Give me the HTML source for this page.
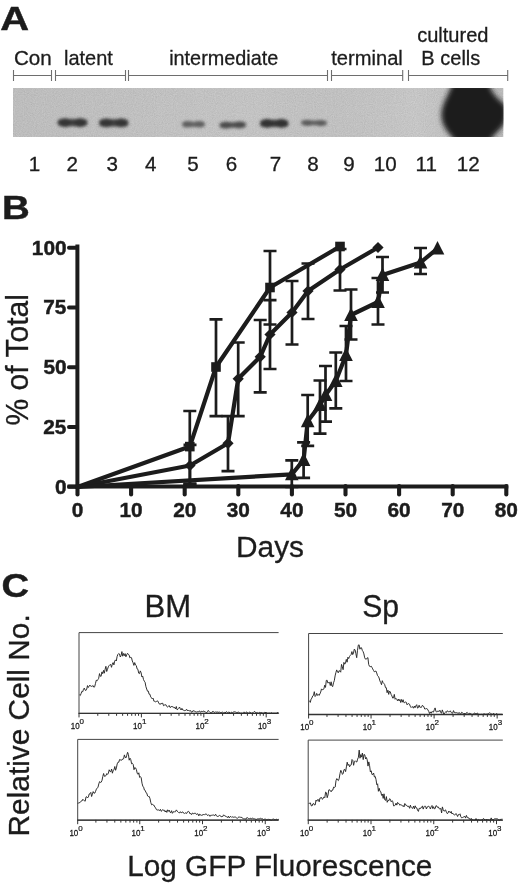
<!DOCTYPE html>
<html><head><meta charset="utf-8"><title>Figure</title>
<style>
html,body{margin:0;padding:0;background:#fff;}
body{width:520px;height:886px;overflow:hidden;}
svg{display:block;filter:grayscale(1) blur(0.35px);}
text{font-family:"Liberation Sans",sans-serif;fill:#1c1c1c;stroke:#1c1c1c;stroke-width:0.3px;}
.b{font-weight:bold;stroke:#1c1c1c;stroke-width:0.45px;}
.ser{font-family:"Liberation Sans",sans-serif;}
</style></head><body>
<svg width="520" height="886" viewBox="0 0 520 886">
<defs>
<filter id="bl2" x="-30%" y="-100%" width="160%" height="300%"><feGaussianBlur stdDeviation="1.7 1.4"/></filter>
<filter id="bl3" x="-30%" y="-30%" width="160%" height="160%"><feGaussianBlur stdDeviation="2.7"/></filter>
<filter id="grain" x="0" y="0" width="100%" height="100%"><feTurbulence type="fractalNoise" baseFrequency="0.9" numOctaves="2" seed="3" result="n"/><feColorMatrix type="matrix" values="0 0 0 0 0  0 0 0 0 0  0 0 0 0 0  0.35 0.35 0.35 0 -0.38"/></filter>
<linearGradient id="blotshade" x1="0" x2="1" y1="0" y2="0"><stop offset="0" stop-color="#000" stop-opacity="0.03"/><stop offset="0.5" stop-color="#000" stop-opacity="0"/><stop offset="0.82" stop-color="#fff" stop-opacity="0.06"/><stop offset="1" stop-color="#000" stop-opacity="0.05"/></linearGradient>
<clipPath id="blotclip"><rect x="13" y="88" width="490.5" height="49"/></clipPath>
</defs>
<rect width="520" height="886" fill="#fff"/>
<text transform="translate(0.25 29.50) scale(1.2199 1)" font-size="32.73" class="b">A</text>
<text transform="translate(13.97 65.40) scale(1.0006 1)" font-size="20.60">Con</text>
<text transform="translate(64.05 65.40) scale(0.9688 1)" font-size="20.60">latent</text>
<text transform="translate(169.16 65.20) scale(0.9632 1)" font-size="20.60">intermediate</text>
<text transform="translate(331.20 65.20) scale(0.9779 1)" font-size="20.60">terminal</text>
<text transform="translate(417.15 42.30) scale(0.9744 1)" font-size="20.60">cultured</text>
<text transform="translate(421.35 65.40) scale(0.9717 1)" font-size="20.60">B cells</text>
<path d="M13.5 70V81M51.5 70V81M13.5 75.5H51.5" stroke="#6e6e6e" stroke-width="1.1" fill="none"/>
<path d="M55.5 70V81M125.5 70V81M55.5 75.5H125.5" stroke="#6e6e6e" stroke-width="1.1" fill="none"/>
<path d="M128.5 70V81M327.5 70V81M128.5 75.5H327.5" stroke="#6e6e6e" stroke-width="1.1" fill="none"/>
<path d="M331.5 70V81M402.7 70V81M331.5 75.5H402.7" stroke="#6e6e6e" stroke-width="1.1" fill="none"/>
<path d="M408.5 70V81M507.7 70V81M408.5 75.5H507.7" stroke="#6e6e6e" stroke-width="1.1" fill="none"/>
<g clip-path="url(#blotclip)">
<rect x="13" y="88" width="490.5" height="49" fill="#c9c9c9"/>
<rect x="13" y="88" width="490.5" height="49" fill="url(#blotshade)"/>
<rect x="13" y="88" width="490.5" height="49" filter="url(#grain)" opacity="0.22"/>
<g transform="rotate(0 72.5 122.6)" filter="url(#bl2)" opacity="1.0">
<rect x="57.5" y="118.89999999999999" width="30.0" height="7.4" rx="3.7" fill="#363636" opacity="0.93"/>
<ellipse cx="65.14" cy="122.6" rx="6.08" ry="4.4" fill="#363636"/>
<ellipse cx="79.86" cy="122.6" rx="6.08" ry="4.4" fill="#363636"/>
</g>
<g transform="rotate(0 113.75 122.9)" filter="url(#bl2)" opacity="1.0">
<rect x="99" y="119.2" width="29.5" height="7.4" rx="3.7" fill="#363636" opacity="0.93"/>
<ellipse cx="106.505" cy="122.9" rx="5.985" ry="4.4" fill="#363636"/>
<ellipse cx="120.995" cy="122.9" rx="5.985" ry="4.4" fill="#363636"/>
</g>
<g transform="rotate(0 193.5 124.3)" filter="url(#bl2)" opacity="0.9">
<rect x="182" y="121.7" width="23" height="5.199999999999999" rx="2.5999999999999996" fill="#555" opacity="0.93"/>
<ellipse cx="187.75" cy="124.3" rx="4.75" ry="3.3" fill="#555"/>
<ellipse cx="199.25" cy="124.3" rx="4.75" ry="3.3" fill="#555"/>
</g>
<g transform="rotate(-1.2 232.75 125.0)" filter="url(#bl2)" opacity="0.95">
<rect x="219.5" y="122.2" width="26.5" height="5.6" rx="2.8" fill="#444" opacity="0.93"/>
<ellipse cx="226.195" cy="125.0" rx="5.415" ry="3.5" fill="#444"/>
<ellipse cx="239.305" cy="125.0" rx="5.415" ry="3.5" fill="#444"/>
</g>
<g transform="rotate(0 274.25 123.4)" filter="url(#bl2)" opacity="1.0">
<rect x="260" y="119.75000000000001" width="28.5" height="7.299999999999999" rx="3.6499999999999995" fill="#303030" opacity="0.93"/>
<ellipse cx="267.235" cy="123.4" rx="5.795" ry="4.35" fill="#303030"/>
<ellipse cx="281.265" cy="123.4" rx="5.795" ry="4.35" fill="#303030"/>
</g>
<g transform="rotate(0.8 314.0 122.9)" filter="url(#bl2)" opacity="0.9">
<rect x="301" y="120.60000000000001" width="26" height="4.6" rx="2.3" fill="#505050" opacity="0.93"/>
<ellipse cx="307.56" cy="122.9" rx="5.32" ry="3.0" fill="#505050"/>
<ellipse cx="320.44" cy="122.9" rx="5.32" ry="3.0" fill="#505050"/>
</g>
<path d="M452 84 C449 95 441 104 441.5 116 C442 127 449 133 455 141 L490 141 C494 133 506 127 506 117 L506 106 C500 100 492 95 489 84 Z" fill="#1d1d1d" filter="url(#bl3)"/>
</g>
<text transform="translate(34.60 171.30) scale(1.0000 1)" font-size="20.60" text-anchor="middle">1</text>
<text transform="translate(72.20 171.30) scale(1.0000 1)" font-size="20.60" text-anchor="middle">2</text>
<text transform="translate(112.30 171.30) scale(1.0000 1)" font-size="20.60" text-anchor="middle">3</text>
<text transform="translate(150.80 171.30) scale(1.0000 1)" font-size="20.60" text-anchor="middle">4</text>
<text transform="translate(193.00 171.30) scale(1.0000 1)" font-size="20.60" text-anchor="middle">5</text>
<text transform="translate(231.50 171.30) scale(1.0000 1)" font-size="20.60" text-anchor="middle">6</text>
<text transform="translate(275.40 171.30) scale(1.0000 1)" font-size="20.60" text-anchor="middle">7</text>
<text transform="translate(312.90 171.30) scale(1.0000 1)" font-size="20.60" text-anchor="middle">8</text>
<text transform="translate(349.00 171.30) scale(1.0000 1)" font-size="20.60" text-anchor="middle">9</text>
<text transform="translate(385.20 171.30) scale(1.0000 1)" font-size="20.60" text-anchor="middle">10</text>
<text transform="translate(426.30 171.30) scale(1.0000 1)" font-size="20.60" text-anchor="middle">11</text>
<text transform="translate(468.20 171.30) scale(1.0000 1)" font-size="20.60" text-anchor="middle">12</text>
<text transform="translate(1.90 218.80) scale(1.1719 1)" font-size="32.87" class="b">B</text>
<path d="M77.4 244.6V488.6" stroke="#1c1c1c" stroke-width="4" fill="none"/>
<path d="M67.5 486.6H508.3" stroke="#1c1c1c" stroke-width="4" fill="none"/>
<path d="M69 486.80H77" stroke="#1c1c1c" stroke-width="4" stroke-linecap="round"/>
<text transform="translate(66.56 493.50) scale(1.0000 1)" font-size="20.80" text-anchor="end" class="b">0</text>
<path d="M69 427.05H77" stroke="#1c1c1c" stroke-width="4" stroke-linecap="round"/>
<text transform="translate(66.32 433.75) scale(1.0000 1)" font-size="20.80" text-anchor="end" class="b">25</text>
<path d="M69 367.30H77" stroke="#1c1c1c" stroke-width="4" stroke-linecap="round"/>
<text transform="translate(66.58 374.00) scale(1.0000 1)" font-size="20.80" text-anchor="end" class="b">50</text>
<path d="M69 307.55H77" stroke="#1c1c1c" stroke-width="4" stroke-linecap="round"/>
<text transform="translate(66.32 314.25) scale(1.0000 1)" font-size="20.80" text-anchor="end" class="b">75</text>
<path d="M69 247.80H77" stroke="#1c1c1c" stroke-width="4" stroke-linecap="round"/>
<text transform="translate(66.55 254.50) scale(1.0000 1)" font-size="20.80" text-anchor="end" class="b">100</text>
<path d="M77.50 486V494.5" stroke="#1c1c1c" stroke-width="4.1" stroke-linecap="round"/>
<text transform="translate(77.50 517.30) scale(1.0000 1)" font-size="20.80" text-anchor="middle" class="b">0</text>
<path d="M131.10 486V494.5" stroke="#1c1c1c" stroke-width="4.1" stroke-linecap="round"/>
<text transform="translate(131.10 517.30) scale(1.0000 1)" font-size="20.80" text-anchor="middle" class="b">10</text>
<path d="M184.70 486V494.5" stroke="#1c1c1c" stroke-width="4.1" stroke-linecap="round"/>
<text transform="translate(184.70 517.30) scale(1.0000 1)" font-size="20.80" text-anchor="middle" class="b">20</text>
<path d="M238.30 486V494.5" stroke="#1c1c1c" stroke-width="4.1" stroke-linecap="round"/>
<text transform="translate(238.30 517.30) scale(1.0000 1)" font-size="20.80" text-anchor="middle" class="b">30</text>
<path d="M291.90 486V494.5" stroke="#1c1c1c" stroke-width="4.1" stroke-linecap="round"/>
<text transform="translate(291.90 517.30) scale(1.0000 1)" font-size="20.80" text-anchor="middle" class="b">40</text>
<path d="M345.50 486V494.5" stroke="#1c1c1c" stroke-width="4.1" stroke-linecap="round"/>
<text transform="translate(345.50 517.30) scale(1.0000 1)" font-size="20.80" text-anchor="middle" class="b">50</text>
<path d="M399.10 486V494.5" stroke="#1c1c1c" stroke-width="4.1" stroke-linecap="round"/>
<text transform="translate(399.10 517.30) scale(1.0000 1)" font-size="20.80" text-anchor="middle" class="b">60</text>
<path d="M452.70 486V494.5" stroke="#1c1c1c" stroke-width="4.1" stroke-linecap="round"/>
<text transform="translate(452.70 517.30) scale(1.0000 1)" font-size="20.80" text-anchor="middle" class="b">70</text>
<path d="M506.30 486V494.5" stroke="#1c1c1c" stroke-width="4.1" stroke-linecap="round"/>
<text transform="translate(506.30 517.30) scale(1.0000 1)" font-size="20.80" text-anchor="middle" class="b">80</text>
<text transform="translate(28.10 425.55) rotate(-90) scale(0.9654 1)" font-size="31.17">% of Total</text>
<text transform="translate(236.04 557.30) scale(0.9870 1)" font-size="30.25">Days</text>
<path d="M189.8 411V483.8M183.3 411H196.3M183.3 483.8H196.3" stroke="#1c1c1c" stroke-width="2.7" fill="none"/>
<path d="M216 319.3V416.2M209.5 319.3H222.5M209.5 416.2H222.5" stroke="#1c1c1c" stroke-width="2.7" fill="none"/>
<path d="M270 251V324.5M263.5 251H276.5M263.5 324.5H276.5" stroke="#1c1c1c" stroke-width="2.7" fill="none"/>
<path d="M190 444.8V483.8M183.5 444.8H196.5M183.5 483.8H196.5" stroke="#1c1c1c" stroke-width="2.7" fill="none"/>
<path d="M228 416.2V471.1M221.5 416.2H234.5M221.5 471.1H234.5" stroke="#1c1c1c" stroke-width="2.7" fill="none"/>
<path d="M238.2 342.5V416.2M231.7 342.5H244.7M231.7 416.2H244.7" stroke="#1c1c1c" stroke-width="2.7" fill="none"/>
<path d="M260.2 320V392.3M253.7 320H266.7M253.7 392.3H266.7" stroke="#1c1c1c" stroke-width="2.7" fill="none"/>
<path d="M270 300.2V369M263.5 300.2H276.5M263.5 369H276.5" stroke="#1c1c1c" stroke-width="2.7" fill="none"/>
<path d="M292 281V344.5M285.5 281H298.5M285.5 344.5H298.5" stroke="#1c1c1c" stroke-width="2.7" fill="none"/>
<path d="M308 263.5V319M301.5 263.5H314.5M301.5 319H314.5" stroke="#1c1c1c" stroke-width="2.7" fill="none"/>
<path d="M340 249V290.5M333.5 249H346.5M333.5 290.5H346.5" stroke="#1c1c1c" stroke-width="2.7" fill="none"/>
<path d="M291.8 460.4V487M285.3 460.4H298.3M285.3 487H298.3" stroke="#1c1c1c" stroke-width="2.7" fill="none"/>
<path d="M303.6 442.4V477.8M297.1 442.4H310.1M297.1 477.8H310.1" stroke="#1c1c1c" stroke-width="2.7" fill="none"/>
<path d="M307.7 395V445.9M301.2 395H314.2M301.2 445.9H314.2" stroke="#1c1c1c" stroke-width="2.7" fill="none"/>
<path d="M320 380.5V433.6M313.5 380.5H326.5M313.5 433.6H326.5" stroke="#1c1c1c" stroke-width="2.7" fill="none"/>
<path d="M325.5 366V421.6M319.0 366H332.0M319.0 421.6H332.0" stroke="#1c1c1c" stroke-width="2.7" fill="none"/>
<path d="M335.8 352.5V408.4M329.3 352.5H342.3M329.3 408.4H342.3" stroke="#1c1c1c" stroke-width="2.7" fill="none"/>
<path d="M346 326V381M339.5 326H352.5M339.5 381H352.5" stroke="#1c1c1c" stroke-width="2.7" fill="none"/>
<path d="M351 289.5V339.5M344.5 289.5H357.5M344.5 339.5H357.5" stroke="#1c1c1c" stroke-width="2.7" fill="none"/>
<path d="M378 278V324.5M371.5 278H384.5M371.5 324.5H384.5" stroke="#1c1c1c" stroke-width="2.7" fill="none"/>
<path d="M382.5 257V292.5M376.0 257H389.0M376.0 292.5H389.0" stroke="#1c1c1c" stroke-width="2.7" fill="none"/>
<path d="M420.5 248V274M414.0 248H427.0M414.0 274H427.0" stroke="#1c1c1c" stroke-width="2.7" fill="none"/>
<path d="M77.5 487 L189.8 446.6 L216 367 L270 287.5 L340 246.5" stroke="#1c1c1c" stroke-width="4.2" fill="none" stroke-linejoin="round" stroke-linecap="round"/>
<path d="M77.5 487 L190 465.5 L228 443.3 L238.2 378.8 L260.2 356.8 L270 334.5 L292 312.5 L308 291 L340 269.5 L378 247.5" stroke="#1c1c1c" stroke-width="4.2" fill="none" stroke-linejoin="round" stroke-linecap="round"/>
<path d="M77.5 487 L291.8 474.3 L303.6 460 L307.7 421.2 L320 405 L325.5 395 L335.8 381 L346 355 L351 315 L378 302 L382.5 275 L420.5 262.5 L437.5 248.5" stroke="#1c1c1c" stroke-width="4.2" fill="none" stroke-linejoin="round" stroke-linecap="round"/>
<rect x="185.0" y="441.8" width="9.6" height="9.6" fill="#1c1c1c"/>
<rect x="211.2" y="362.2" width="9.6" height="9.6" fill="#1c1c1c"/>
<rect x="265.2" y="282.7" width="9.6" height="9.6" fill="#1c1c1c"/>
<rect x="335.2" y="241.7" width="9.6" height="9.6" fill="#1c1c1c"/>
<path d="M190 459.9L195.6 465.5L190 471.1L184.4 465.5Z" fill="#1c1c1c"/>
<path d="M228 437.7L233.6 443.3L228 448.90000000000003L222.4 443.3Z" fill="#1c1c1c"/>
<path d="M238.2 373.2L243.79999999999998 378.8L238.2 384.40000000000003L232.6 378.8Z" fill="#1c1c1c"/>
<path d="M260.2 351.2L265.8 356.8L260.2 362.40000000000003L254.6 356.8Z" fill="#1c1c1c"/>
<path d="M270 328.9L275.6 334.5L270 340.1L264.4 334.5Z" fill="#1c1c1c"/>
<path d="M292 306.9L297.6 312.5L292 318.1L286.4 312.5Z" fill="#1c1c1c"/>
<path d="M308 285.4L313.6 291L308 296.6L302.4 291Z" fill="#1c1c1c"/>
<path d="M340 263.9L345.6 269.5L340 275.1L334.4 269.5Z" fill="#1c1c1c"/>
<path d="M378 241.9L383.6 247.5L378 253.1L372.4 247.5Z" fill="#1c1c1c"/>
<path d="M291.8 466.8L298.6 480.3L285.0 480.3Z" fill="#1c1c1c"/>
<path d="M303.6 452.5L310.40000000000003 466L296.8 466Z" fill="#1c1c1c"/>
<path d="M307.7 413.7L314.5 427.2L300.9 427.2Z" fill="#1c1c1c"/>
<path d="M320 397.5L326.8 411L313.2 411Z" fill="#1c1c1c"/>
<path d="M325.5 387.5L332.3 401L318.7 401Z" fill="#1c1c1c"/>
<path d="M335.8 373.5L342.6 387L329.0 387Z" fill="#1c1c1c"/>
<path d="M346 347.5L352.8 361L339.2 361Z" fill="#1c1c1c"/>
<path d="M351 307.5L357.8 321L344.2 321Z" fill="#1c1c1c"/>
<path d="M378 294.5L384.8 308L371.2 308Z" fill="#1c1c1c"/>
<path d="M382.5 267.5L389.3 281L375.7 281Z" fill="#1c1c1c"/>
<path d="M420.5 255.0L427.3 268.5L413.7 268.5Z" fill="#1c1c1c"/>
<path d="M437.5 241.0L444.3 254.5L430.7 254.5Z" fill="#1c1c1c"/>
<text transform="translate(1.47 597.00) scale(1.1749 1)" font-size="32.49" class="b">C</text>
<text transform="translate(29.30 836.46) rotate(-90) scale(1.0205 1)" font-size="29.24">Relative Cell No.</text>
<text transform="translate(144.54 617.00) scale(1.0081 1)" font-size="30.84">BM</text>
<text transform="translate(362.14 617.00) scale(0.9694 1)" font-size="31.10">Sp</text>
<text transform="translate(127.25 875.60) scale(1.0220 1)" font-size="29.10">Log GFP Fluorescence</text>
<path d="M278.6 632.6H79V713.4H278.6" stroke="#454545" stroke-width="1" fill="none"/>
<path d="M78.5 713.4H278.6" stroke="#333" stroke-width="1.3" fill="none"/>
<path d="M79.00 713.1v4.3M97.78 713.1v2.7M108.77 713.1v2.7M116.57 713.1v2.7M122.62 713.1v2.7M127.56 713.1v2.7M131.73 713.1v2.7M135.35 713.1v2.7M138.54 713.1v2.7M141.40 713.1v4.3M160.18 713.1v2.7M171.17 713.1v2.7M178.97 713.1v2.7M185.02 713.1v2.7M189.96 713.1v2.7M194.13 713.1v2.7M197.75 713.1v2.7M200.94 713.1v2.7M203.80 713.1v4.3M222.58 713.1v2.7M233.57 713.1v2.7M241.37 713.1v2.7M247.42 713.1v2.7M252.36 713.1v2.7M256.53 713.1v2.7M260.15 713.1v2.7M263.34 713.1v2.7M266.20 713.1v4.3" stroke="#333" stroke-width="1" fill="none"/>
<text transform="translate(79.60 729.10) scale(0.86 1)" font-size="9.3" text-anchor="end" style="fill:#151515;stroke:#151515;stroke-width:0.25px">10</text>
<text transform="translate(79.50 724.00)" font-size="8" style="fill:#151515;stroke:#151515;stroke-width:0.2px">0</text>
<text transform="translate(142.00 729.10) scale(0.86 1)" font-size="9.3" text-anchor="end" style="fill:#151515;stroke:#151515;stroke-width:0.25px">10</text>
<text transform="translate(141.90 724.00)" font-size="8" style="fill:#151515;stroke:#151515;stroke-width:0.2px">1</text>
<text transform="translate(204.40 729.10) scale(0.86 1)" font-size="9.3" text-anchor="end" style="fill:#151515;stroke:#151515;stroke-width:0.25px">10</text>
<text transform="translate(204.30 724.00)" font-size="8" style="fill:#151515;stroke:#151515;stroke-width:0.2px">2</text>
<text transform="translate(266.80 729.10) scale(0.86 1)" font-size="9.3" text-anchor="end" style="fill:#151515;stroke:#151515;stroke-width:0.25px">10</text>
<text transform="translate(266.70 724.00)" font-size="8" style="fill:#151515;stroke:#151515;stroke-width:0.2px">3</text>
<path d="M79.5 694.8L80.3 695.5L81.1 693.5L81.9 691.3L82.7 691.8L83.5 689.3L84.3 688.1L85.1 690.1L85.9 690.5L86.7 689.2L87.5 685.6L88.3 687.5L89.1 686.2L89.9 685.1L90.7 686.2L91.5 686.4L92.3 686.1L93.1 685.6L93.9 687.3L94.7 686.7L95.5 683.3L96.3 680.2L97.1 680.8L97.9 679.6L98.7 678.3L99.5 673.6L100.3 676.2L101.1 676.3L101.9 671.9L102.7 673.7L103.5 670.4L104.3 673.2L105.1 669.3L105.9 666.3L106.7 671.5L107.5 669.3L108.3 666.8L109.1 665.6L109.9 664.7L110.7 664.5L111.5 667.3L112.3 664.1L113.1 662.6L113.9 664.9L114.7 661.1L115.5 659.9L116.3 661.0L117.1 656.5L117.9 654.4L118.7 653.5L119.5 654.0L120.3 657.0L121.1 655.5L121.9 651.6L122.7 656.2L123.5 653.5L124.3 655.7L125.1 653.6L125.9 656.8L126.7 654.9L127.5 653.3L128.3 654.2L129.1 655.1L129.9 657.9L130.7 657.3L131.5 657.7L132.3 661.0L133.1 662.8L133.9 665.4L134.7 662.6L135.5 665.0L136.3 665.6L137.1 668.9L137.9 669.3L138.7 673.2L139.5 673.6L140.3 670.9L141.1 672.7L141.9 677.0L142.7 676.1L143.5 679.6L144.3 681.2L145.1 682.3L145.9 686.6L146.7 689.0L147.5 691.2L148.3 691.1L149.1 694.2L149.9 694.2L150.7 696.9L151.5 697.8L152.3 699.0L153.1 698.2L153.9 701.2L154.7 701.3L155.5 701.8L156.3 701.5L157.1 700.9L157.9 701.1L158.7 702.9L159.5 704.1L160.3 704.4L161.1 703.1L161.9 703.8L162.7 703.1L163.5 705.7L164.3 705.1L165.1 704.9L165.9 704.7L166.7 706.4L167.5 707.0L168.3 706.5L169.1 705.5L169.9 707.3L170.7 707.4L171.5 706.0L172.3 706.9L173.1 706.7L173.9 707.8L174.7 707.4L175.5 709.0L176.3 706.5L177.1 709.8L177.9 709.3L178.7 708.5L179.5 707.0L180.3 708.7L181.1 710.0L181.9 708.3L182.7 709.9L183.5 710.2L184.3 710.6L185.1 710.5L185.9 710.2L186.7 709.3L187.5 711.0L188.3 710.1L189.1 710.9L189.9 710.9L190.7 710.6L191.5 712.3L192.3 711.9L193.1 710.5L193.9 711.2L194.7 711.0L195.5 711.9L196.3 712.1L197.1 711.7L197.9 711.8L198.7 711.6L199.5 710.9L200.3 712.2L201.1 711.6L201.9 711.2L202.7 712.0L203.5 710.9L204.3 711.5L205.1 711.5L205.9 712.6L206.7 712.8L207.5 711.5L208.3 710.4L209.1 711.5L209.9 712.3L210.7 712.6L211.5 713.2L212.3 711.6L213.1 711.4L213.9 712.0L214.7 712.5L215.5 711.7L216.3 712.5L217.1 711.6L217.9 712.7L218.7 712.2L219.5 712.1L220.3 712.4L221.1 712.9L221.9 712.1L222.7 712.2L223.5 712.8L224.3 712.4L225.1 713.0L225.9 712.0L226.7 711.7L227.5 712.7L228.3 712.4L229.1 711.9L229.9 713.2L230.7 713.2L231.5 712.1L232.3 712.7L233.1 712.3L233.9 711.8L234.7 711.8L235.5 712.0L236.3 712.5L237.1 712.3L237.9 712.6L238.7 712.1L239.5 712.7L240.3 713.1L241.1 713.2L241.9 713.0L242.7 713.2L243.5 712.4L244.3 712.1L245.1 713.2L245.9 712.4L246.7 711.9L247.5 713.0L248.3 713.2L249.1 712.6L249.9 711.9L250.7 712.8L251.5 713.2L252.3 712.9L253.1 712.7L253.9 711.8L254.7 711.4L255.5 712.6L256.3 712.9L257.1 712.3L257.9 713.2L258.7 713.2L259.5 712.3L260.3 712.7L261.1 712.5L261.9 712.8L262.7 713.1L263.5 713.1L264.3 712.4L265.1 713.1L265.9 712.0L266.7 712.8L267.5 713.2L268.3 713.2L269.1 713.1L269.9 713.1L270.7 713.2L271.5 712.7L272.3 713.2L273.1 713.2L273.9 713.2L274.7 713.2L275.5 713.2L276.3 713.2L277.1 712.9L277.9 712.3L278.7 713.1" stroke="#262626" stroke-width="0.95" fill="none" stroke-linejoin="miter"/>
<path d="M502.8 633.5H308.6V714.5H502.8" stroke="#454545" stroke-width="1" fill="none"/>
<path d="M308.1 714.5H502.8" stroke="#333" stroke-width="1.3" fill="none"/>
<path d="M308.60 714.2v4.3M326.98 714.2v2.7M338.08 714.2v2.7M345.96 714.2v2.7M352.07 714.2v2.7M357.06 714.2v2.7M361.28 714.2v2.7M364.94 714.2v2.7M368.16 714.2v2.7M371.05 714.2v4.3M390.03 714.2v2.7M401.13 714.2v2.7M409.01 714.2v2.7M415.12 714.2v2.7M420.11 714.2v2.7M424.33 714.2v2.7M427.99 714.2v2.7M431.21 714.2v2.7M434.10 714.2v4.3M453.08 714.2v2.7M464.18 714.2v2.7M472.06 714.2v2.7M478.17 714.2v2.7M483.16 714.2v2.7M487.38 714.2v2.7M491.04 714.2v2.7M494.26 714.2v2.7M497.15 714.2v4.3" stroke="#333" stroke-width="1" fill="none"/>
<text transform="translate(309.20 730.20) scale(0.86 1)" font-size="9.3" text-anchor="end" style="fill:#151515;stroke:#151515;stroke-width:0.25px">10</text>
<text transform="translate(309.10 725.10)" font-size="8" style="fill:#151515;stroke:#151515;stroke-width:0.2px">0</text>
<text transform="translate(371.65 730.20) scale(0.86 1)" font-size="9.3" text-anchor="end" style="fill:#151515;stroke:#151515;stroke-width:0.25px">10</text>
<text transform="translate(371.55 725.10)" font-size="8" style="fill:#151515;stroke:#151515;stroke-width:0.2px">1</text>
<text transform="translate(434.70 730.20) scale(0.86 1)" font-size="9.3" text-anchor="end" style="fill:#151515;stroke:#151515;stroke-width:0.25px">10</text>
<text transform="translate(434.60 725.10)" font-size="8" style="fill:#151515;stroke:#151515;stroke-width:0.2px">2</text>
<text transform="translate(497.75 730.20) scale(0.86 1)" font-size="9.3" text-anchor="end" style="fill:#151515;stroke:#151515;stroke-width:0.25px">10</text>
<text transform="translate(497.65 725.10)" font-size="8" style="fill:#151515;stroke:#151515;stroke-width:0.2px">3</text>
<path d="M309.5 700.7L310.3 702.4L311.1 699.1L311.9 698.1L312.7 695.9L313.5 695.4L314.3 691.7L315.1 696.5L315.9 695.6L316.7 693.4L317.5 695.4L318.3 694.5L319.1 695.4L319.9 693.9L320.7 692.1L321.5 688.9L322.3 689.7L323.1 689.6L323.9 688.9L324.7 685.2L325.5 687.4L326.3 680.4L327.1 680.2L327.9 683.1L328.7 682.5L329.5 682.4L330.3 685.5L331.1 681.8L331.9 686.0L332.7 686.6L333.5 682.8L334.3 680.7L335.1 675.9L335.9 672.5L336.7 669.9L337.5 672.0L338.3 672.8L339.1 670.6L339.9 671.1L340.7 672.2L341.5 664.4L342.3 666.6L343.1 669.7L343.9 662.4L344.7 664.2L345.5 663.0L346.3 659.4L347.1 662.2L347.9 657.2L348.7 658.6L349.5 656.5L350.3 655.4L351.1 654.6L351.9 651.6L352.7 654.6L353.5 653.0L354.3 649.1L355.1 650.0L355.9 653.7L356.7 657.7L357.5 650.3L358.3 645.1L359.1 644.8L359.9 649.2L360.7 647.7L361.5 647.8L362.3 650.4L363.1 651.6L363.9 653.9L364.7 657.8L365.5 659.1L366.3 659.2L367.1 658.1L367.9 657.6L368.7 664.5L369.5 666.3L370.3 666.7L371.1 666.1L371.9 667.3L372.7 668.9L373.5 670.4L374.3 671.8L375.1 671.4L375.9 671.0L376.7 672.9L377.5 675.6L378.3 676.3L379.1 678.0L379.9 680.9L380.7 682.5L381.5 684.7L382.3 680.7L383.1 682.7L383.9 683.5L384.7 684.6L385.5 687.7L386.3 687.7L387.1 692.7L387.9 690.2L388.7 694.4L389.5 691.1L390.3 691.9L391.1 694.4L391.9 695.9L392.7 698.1L393.5 697.9L394.3 694.4L395.1 699.3L395.9 698.3L396.7 699.3L397.5 700.8L398.3 699.1L399.1 700.9L399.9 699.4L400.7 702.5L401.5 699.5L402.3 702.2L403.1 699.7L403.9 702.6L404.7 702.6L405.5 702.0L406.3 702.3L407.1 704.8L407.9 703.8L408.7 703.6L409.5 704.2L410.3 706.3L411.1 707.5L411.9 706.7L412.7 706.8L413.5 708.2L414.3 706.1L415.1 707.7L415.9 705.8L416.7 704.7L417.5 708.1L418.3 707.7L419.1 705.2L419.9 707.3L420.7 707.3L421.5 707.3L422.3 705.4L423.1 705.8L423.9 706.9L424.7 709.0L425.5 708.9L426.3 708.6L427.1 708.7L427.9 709.9L428.7 711.4L429.5 713.5L430.3 711.9L431.1 713.3L431.9 711.6L432.7 711.8L433.5 712.1L434.3 709.7L435.1 707.9L435.9 711.2L436.7 712.2L437.5 711.1L438.3 711.2L439.1 711.5L439.9 710.2L440.7 712.4L441.5 713.3L442.3 709.9L443.1 712.1L443.9 714.3L444.7 712.8L445.5 712.0L446.3 712.6L447.1 710.8L447.9 711.3L448.7 711.8L449.5 711.7L450.3 710.8L451.1 712.4L451.9 713.1L452.7 713.2L453.5 710.6L454.3 712.4L455.1 712.8L455.9 712.6L456.7 712.7L457.5 713.0L458.3 713.6L459.1 712.4L459.9 713.7L460.7 714.3L461.5 712.3L462.3 712.7L463.1 713.2L463.9 714.3L464.7 713.0L465.5 714.3L466.3 712.9L467.1 712.3L467.9 713.6L468.7 714.3L469.5 712.9L470.3 713.9L471.1 713.5L471.9 714.3L472.7 714.3L473.5 714.3L474.3 712.9L475.1 713.6L475.9 713.5L476.7 713.5L477.5 713.0L478.3 714.3L479.1 714.3L479.9 714.3L480.7 714.3L481.5 714.2L482.3 714.3L483.1 714.3L483.9 713.7L484.7 713.9L485.5 714.2L486.3 714.2L487.1 713.8L487.9 714.1L488.7 713.3L489.5 712.8L490.3 713.0L491.1 713.8L491.9 714.3L492.7 714.3L493.5 713.2L494.3 714.2L495.1 714.3L495.9 714.3L496.7 713.4L497.5 714.3L498.3 714.3L499.1 714.3L499.9 714.3L500.7 714.3L501.5 714.3L502.3 714.3" stroke="#262626" stroke-width="0.95" fill="none" stroke-linejoin="miter"/>
<path d="M278.6 739.4H77.7V820.2H278.6" stroke="#454545" stroke-width="1" fill="none"/>
<path d="M77.2 820.2H278.6" stroke="#333" stroke-width="1.3" fill="none"/>
<path d="M77.70 819.9000000000001v4.3M95.89 819.9000000000001v2.7M106.94 819.9000000000001v2.7M114.78 819.9000000000001v2.7M120.86 819.9000000000001v2.7M125.83 819.9000000000001v2.7M130.03 819.9000000000001v2.7M133.67 819.9000000000001v2.7M136.88 819.9000000000001v2.7M139.75 819.9000000000001v4.3M158.64 819.9000000000001v2.7M169.69 819.9000000000001v2.7M177.53 819.9000000000001v2.7M183.61 819.9000000000001v2.7M188.58 819.9000000000001v2.7M192.78 819.9000000000001v2.7M196.42 819.9000000000001v2.7M199.63 819.9000000000001v2.7M202.50 819.9000000000001v4.3M221.39 819.9000000000001v2.7M232.44 819.9000000000001v2.7M240.28 819.9000000000001v2.7M246.36 819.9000000000001v2.7M251.33 819.9000000000001v2.7M255.53 819.9000000000001v2.7M259.17 819.9000000000001v2.7M262.38 819.9000000000001v2.7M265.25 819.9000000000001v4.3" stroke="#333" stroke-width="1" fill="none"/>
<text transform="translate(78.30 835.90) scale(0.86 1)" font-size="9.3" text-anchor="end" style="fill:#151515;stroke:#151515;stroke-width:0.25px">10</text>
<text transform="translate(78.20 830.80)" font-size="8" style="fill:#151515;stroke:#151515;stroke-width:0.2px">0</text>
<text transform="translate(140.35 835.90) scale(0.86 1)" font-size="9.3" text-anchor="end" style="fill:#151515;stroke:#151515;stroke-width:0.25px">10</text>
<text transform="translate(140.25 830.80)" font-size="8" style="fill:#151515;stroke:#151515;stroke-width:0.2px">1</text>
<text transform="translate(203.10 835.90) scale(0.86 1)" font-size="9.3" text-anchor="end" style="fill:#151515;stroke:#151515;stroke-width:0.25px">10</text>
<text transform="translate(203.00 830.80)" font-size="8" style="fill:#151515;stroke:#151515;stroke-width:0.2px">2</text>
<text transform="translate(265.85 835.90) scale(0.86 1)" font-size="9.3" text-anchor="end" style="fill:#151515;stroke:#151515;stroke-width:0.25px">10</text>
<text transform="translate(265.75 830.80)" font-size="8" style="fill:#151515;stroke:#151515;stroke-width:0.2px">3</text>
<path d="M78.0 803.7L78.8 802.6L79.6 802.8L80.4 801.8L81.2 801.1L82.0 801.0L82.8 799.3L83.6 800.2L84.4 800.7L85.2 801.2L86.0 796.9L86.8 796.8L87.6 797.9L88.4 796.9L89.2 794.0L90.0 793.7L90.8 792.4L91.6 796.5L92.4 794.2L93.2 791.6L94.0 793.2L94.8 793.1L95.6 791.3L96.4 789.1L97.2 788.1L98.0 787.2L98.8 783.9L99.6 781.6L100.4 782.4L101.2 782.2L102.0 780.4L102.8 776.5L103.6 773.5L104.4 776.3L105.2 776.1L106.0 775.6L106.8 773.6L107.6 774.4L108.4 773.1L109.2 769.8L110.0 771.5L110.8 771.7L111.6 769.0L112.4 773.2L113.2 770.4L114.0 769.8L114.8 766.5L115.6 770.3L116.4 767.9L117.2 763.9L118.0 762.2L118.8 762.2L119.6 759.5L120.4 759.9L121.2 760.2L122.0 760.0L122.8 758.8L123.6 758.8L124.4 754.9L125.2 757.3L126.0 757.9L126.8 755.2L127.6 752.3L128.4 754.4L129.2 760.2L130.0 758.2L130.8 759.7L131.6 763.8L132.4 763.3L133.2 764.4L134.0 769.7L134.8 767.4L135.6 768.0L136.4 769.6L137.2 773.2L138.0 774.3L138.8 772.8L139.6 777.4L140.4 776.6L141.2 777.8L142.0 783.2L142.8 786.2L143.6 787.1L144.4 790.0L145.2 790.4L146.0 792.7L146.8 793.2L147.6 796.0L148.4 796.5L149.2 796.4L150.0 798.7L150.8 802.6L151.6 804.8L152.4 804.3L153.2 805.1L154.0 805.2L154.8 807.0L155.6 807.9L156.4 809.6L157.2 810.1L158.0 809.8L158.8 810.0L159.6 810.6L160.4 809.3L161.2 811.3L162.0 810.7L162.8 809.5L163.6 810.5L164.4 810.3L165.2 812.0L166.0 810.7L166.8 812.4L167.6 809.8L168.4 811.3L169.2 810.1L170.0 812.3L170.8 812.7L171.6 810.7L172.4 813.3L173.2 812.1L174.0 811.3L174.8 812.2L175.6 811.2L176.4 809.9L177.2 811.3L178.0 811.9L178.8 812.7L179.6 812.9L180.4 811.7L181.2 812.9L182.0 812.2L182.8 811.9L183.6 813.1L184.4 813.5L185.2 812.7L186.0 813.4L186.8 813.3L187.6 811.7L188.4 811.4L189.2 811.9L190.0 813.9L190.8 813.5L191.6 814.6L192.4 813.0L193.2 813.6L194.0 813.7L194.8 813.2L195.6 813.3L196.4 814.5L197.2 813.9L198.0 813.9L198.8 815.9L199.6 814.2L200.4 814.5L201.2 815.6L202.0 814.6L202.8 815.2L203.6 814.3L204.4 815.1L205.2 814.1L206.0 813.9L206.8 814.4L207.6 815.6L208.4 814.8L209.2 815.1L210.0 816.4L210.8 815.2L211.6 815.3L212.4 815.2L213.2 814.8L214.0 815.5L214.8 815.6L215.6 814.2L216.4 815.8L217.2 816.3L218.0 816.6L218.8 815.9L219.6 815.4L220.4 815.7L221.2 816.9L222.0 816.3L222.8 816.5L223.6 814.8L224.4 815.6L225.2 816.1L226.0 816.2L226.8 817.2L227.6 817.5L228.4 816.1L229.2 817.9L230.0 816.7L230.8 816.5L231.6 817.3L232.4 816.8L233.2 817.3L234.0 817.0L234.8 817.1L235.6 817.1L236.4 817.6L237.2 818.5L238.0 817.5L238.8 817.0L239.6 817.1L240.4 817.3L241.2 817.1L242.0 818.0L242.8 818.2L243.6 818.8L244.4 818.8L245.2 818.9L246.0 819.1L246.8 817.6L247.6 817.8L248.4 818.4L249.2 819.0L250.0 818.2L250.8 818.4L251.6 818.6L252.4 818.2L253.2 818.3L254.0 819.3L254.8 818.5L255.6 819.4L256.4 819.4L257.2 819.0L258.0 818.8L258.8 818.9L259.6 818.7L260.4 818.3L261.2 818.7L262.0 819.0L262.8 818.8L263.6 819.6L264.4 819.4L265.2 818.7L266.0 819.8L266.8 819.9L267.6 820.0L268.4 818.9L269.2 819.7L270.0 819.4L270.8 820.0L271.6 820.0L272.4 819.4L273.2 819.1L274.0 819.1L274.8 819.7L275.6 819.5L276.4 819.0L277.2 820.0L278.0 819.5L278.8 819.3" stroke="#262626" stroke-width="0.95" fill="none" stroke-linejoin="miter"/>
<path d="M502.8 740.1H308.2V820.2H502.8" stroke="#454545" stroke-width="1" fill="none"/>
<path d="M307.7 820.2H502.8" stroke="#333" stroke-width="1.3" fill="none"/>
<path d="M308.25 819.9000000000001v4.3M327.14 819.9000000000001v2.7M338.19 819.9000000000001v2.7M346.03 819.9000000000001v2.7M352.11 819.9000000000001v2.7M357.08 819.9000000000001v2.7M361.28 819.9000000000001v2.7M364.92 819.9000000000001v2.7M368.13 819.9000000000001v2.7M371.00 819.9000000000001v4.3M389.89 819.9000000000001v2.7M400.94 819.9000000000001v2.7M408.78 819.9000000000001v2.7M414.86 819.9000000000001v2.7M419.83 819.9000000000001v2.7M424.03 819.9000000000001v2.7M427.67 819.9000000000001v2.7M430.88 819.9000000000001v2.7M433.75 819.9000000000001v4.3M452.64 819.9000000000001v2.7M463.69 819.9000000000001v2.7M471.53 819.9000000000001v2.7M477.61 819.9000000000001v2.7M482.58 819.9000000000001v2.7M486.78 819.9000000000001v2.7M490.42 819.9000000000001v2.7M493.63 819.9000000000001v2.7M496.50 819.9000000000001v4.3" stroke="#333" stroke-width="1" fill="none"/>
<text transform="translate(308.85 835.90) scale(0.86 1)" font-size="9.3" text-anchor="end" style="fill:#151515;stroke:#151515;stroke-width:0.25px">10</text>
<text transform="translate(308.75 830.80)" font-size="8" style="fill:#151515;stroke:#151515;stroke-width:0.2px">0</text>
<text transform="translate(371.60 835.90) scale(0.86 1)" font-size="9.3" text-anchor="end" style="fill:#151515;stroke:#151515;stroke-width:0.25px">10</text>
<text transform="translate(371.50 830.80)" font-size="8" style="fill:#151515;stroke:#151515;stroke-width:0.2px">1</text>
<text transform="translate(434.35 835.90) scale(0.86 1)" font-size="9.3" text-anchor="end" style="fill:#151515;stroke:#151515;stroke-width:0.25px">10</text>
<text transform="translate(434.25 830.80)" font-size="8" style="fill:#151515;stroke:#151515;stroke-width:0.2px">2</text>
<text transform="translate(497.10 835.90) scale(0.86 1)" font-size="9.3" text-anchor="end" style="fill:#151515;stroke:#151515;stroke-width:0.25px">10</text>
<text transform="translate(497.00 830.80)" font-size="8" style="fill:#151515;stroke:#151515;stroke-width:0.2px">3</text>
<path d="M308.8 803.9L309.6 803.0L310.4 802.9L311.2 805.7L312.0 806.0L312.8 803.9L313.6 803.4L314.4 805.0L315.2 804.9L316.0 800.1L316.8 801.2L317.6 799.6L318.4 799.6L319.2 801.8L320.0 797.9L320.8 797.9L321.6 797.5L322.4 799.4L323.2 798.4L324.0 796.9L324.8 797.7L325.6 792.1L326.4 792.7L327.2 797.7L328.0 795.0L328.8 789.9L329.6 789.7L330.4 791.0L331.2 791.8L332.0 790.1L332.8 790.1L333.6 787.1L334.4 787.6L335.2 787.0L336.0 780.6L336.8 778.6L337.6 780.0L338.4 780.6L339.2 778.5L340.0 773.5L340.8 770.3L341.6 771.9L342.4 774.4L343.2 773.4L344.0 769.6L344.8 769.4L345.6 771.6L346.4 766.9L347.2 762.2L348.0 765.4L348.8 764.3L349.6 766.8L350.4 765.2L351.2 764.9L352.0 759.5L352.8 760.4L353.6 765.3L354.4 761.7L355.2 760.8L356.0 761.7L356.8 762.0L357.6 759.2L358.4 757.3L359.2 750.1L360.0 758.2L360.8 754.6L361.6 757.1L362.4 753.0L363.2 759.6L364.0 754.4L364.8 754.9L365.6 759.0L366.4 757.5L367.2 759.8L368.0 766.1L368.8 761.9L369.6 765.7L370.4 772.0L371.2 770.8L372.0 774.6L372.8 774.5L373.6 773.0L374.4 777.0L375.2 776.4L376.0 779.5L376.8 784.7L377.6 783.8L378.4 791.3L379.2 788.3L380.0 791.3L380.8 791.8L381.6 795.4L382.4 794.1L383.2 798.4L384.0 793.8L384.8 799.9L385.6 800.4L386.4 796.6L387.2 802.3L388.0 800.3L388.8 800.8L389.6 798.7L390.4 799.3L391.2 801.8L392.0 800.7L392.8 801.4L393.6 805.9L394.4 805.7L395.2 805.2L396.0 803.2L396.8 805.1L397.6 802.4L398.4 803.5L399.2 803.8L400.0 805.3L400.8 804.4L401.6 805.4L402.4 805.9L403.2 805.5L404.0 806.9L404.8 803.5L405.6 805.1L406.4 805.1L407.2 806.2L408.0 806.5L408.8 806.2L409.6 808.3L410.4 805.2L411.2 807.4L412.0 808.3L412.8 808.2L413.6 806.0L414.4 808.9L415.2 805.8L416.0 807.8L416.8 807.9L417.6 810.4L418.4 811.4L419.2 808.3L420.0 808.5L420.8 808.3L421.6 806.8L422.4 806.1L423.2 809.1L424.0 806.8L424.8 806.0L425.6 806.3L426.4 809.0L427.2 807.0L428.0 806.4L428.8 806.2L429.6 807.2L430.4 809.0L431.2 806.7L432.0 805.5L432.8 808.6L433.6 806.7L434.4 808.8L435.2 808.5L436.0 805.6L436.8 806.0L437.6 807.4L438.4 807.0L439.2 808.7L440.0 809.1L440.8 808.4L441.6 813.0L442.4 806.9L443.2 809.6L444.0 811.2L444.8 810.6L445.6 809.9L446.4 812.3L447.2 813.6L448.0 813.1L448.8 811.0L449.6 811.8L450.4 812.9L451.2 811.4L452.0 814.0L452.8 813.2L453.6 814.3L454.4 815.1L455.2 814.7L456.0 813.5L456.8 814.8L457.6 816.5L458.4 814.6L459.2 814.7L460.0 813.8L460.8 816.7L461.6 817.8L462.4 817.6L463.2 817.1L464.0 816.9L464.8 816.3L465.6 818.1L466.4 815.4L467.2 817.3L468.0 818.1L468.8 817.8L469.6 819.1L470.4 819.9L471.2 818.3L472.0 820.0L472.8 819.6L473.6 820.0L474.4 820.0L475.2 820.0L476.0 818.5L476.8 820.0L477.6 820.0L478.4 819.5L479.2 820.0L480.0 820.0L480.8 820.0L481.6 819.8L482.4 820.0L483.2 818.7L484.0 818.8L484.8 820.0L485.6 820.0L486.4 819.1L487.2 820.0L488.0 819.3L488.8 820.0L489.6 820.0L490.4 820.0L491.2 817.9L492.0 820.0L492.8 819.4L493.6 819.5L494.4 818.9L495.2 818.8L496.0 818.8L496.8 818.8L497.6 818.8L498.4 819.9L499.2 820.0L500.0 820.0L500.8 819.2L501.6 819.3L502.4 819.1" stroke="#262626" stroke-width="0.95" fill="none" stroke-linejoin="miter"/>
</svg></body></html>
